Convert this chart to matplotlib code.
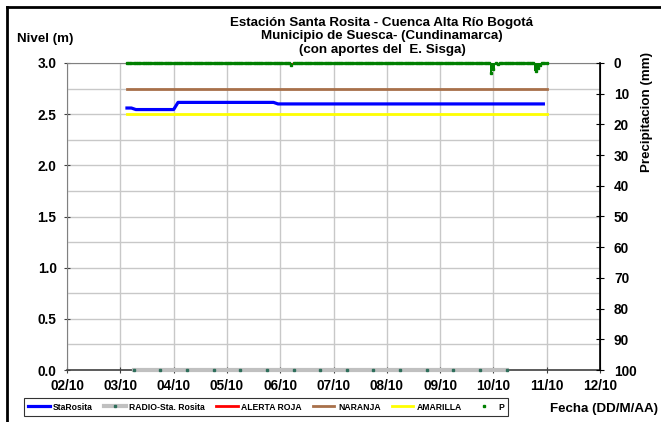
import numpy as np
import pandas as pd
import matplotlib
matplotlib.use("Agg")
import matplotlib.pyplot as plt
import matplotlib.dates as mdates
from matplotlib.lines import Line2D

plt.rcParams['font.family'] = ['Liberation Sans', 'DejaVu Sans']
plt.rcParams['font.weight'] = 'bold'

# Nivel StaRosita (m)
nivel_fechas = ["2010-10-03 03:00", "2010-10-03 05:00", "2010-10-03 07:00", "2010-10-04 00:00",
                "2010-10-04 02:00", "2010-10-05 21:00", "2010-10-05 23:00", "2010-10-10 22:30"]
nivel_valores = [2.56, 2.56, 2.545, 2.545, 2.615, 2.615, 2.60, 2.60]

# RADIO-Sta. Rosita (cada 12 h, en cero)
radio_fechas = ["2010-10-03 06:00", "2010-10-03 18:00", "2010-10-04 06:00", "2010-10-04 18:00",
                "2010-10-05 06:00", "2010-10-05 18:00", "2010-10-06 06:00", "2010-10-06 18:00",
                "2010-10-07 06:00", "2010-10-07 18:00", "2010-10-08 06:00", "2010-10-08 18:00",
                "2010-10-09 06:00", "2010-10-09 18:00", "2010-10-10 06:00"]
radio_valores = [0.0] * len(radio_fechas)

# umbrales de alerta
umbral_fechas = ["2010-10-03 03:00", "2010-10-11 00:00"]
alerta_roja = [3.0, 3.0]
naranja = [2.75, 2.75]
amarilla = [2.5, 2.5]

# precipitacion horaria (mm), casi toda en cero
p_fechas = pd.date_range("2010-10-03 03:00", "2010-10-11 00:00", freq="h")
p_eventos = {"2010-10-06 05:00": 0.6, "2010-10-09 23:00": 3.3, "2010-10-10 00:00": 2.0,
             "2010-10-10 02:00": 0.4, "2010-10-10 19:00": 2.5, "2010-10-10 20:00": 1.6,
             "2010-10-10 21:00": 0.8}
p_valores = pd.Series(0.0, index=p_fechas)
for k, v in p_eventos.items():
    p_valores[pd.Timestamp(k)] = v

fig = plt.figure(figsize=(6.61, 4.22), dpi=100)
ax = fig.add_axes([67 / 661, 52 / 422, 533 / 661, 307 / 422])
ax2 = ax.twinx()

to_dt = pd.to_datetime
ax.plot(to_dt(umbral_fechas), alerta_roja, color='red', lw=1.5, zorder=3)
ax.plot(to_dt(umbral_fechas), naranja, color='#a8704a', lw=2, zorder=3)
ax.plot(to_dt(umbral_fechas), amarilla, color='#ffff00', lw=2, zorder=3)
ax.plot(to_dt(radio_fechas), radio_valores, color='#c0c0c0', lw=3, marker='s', ms=1.7,
        mfc='#2e6e5a', mec='#2e6e5a', zorder=3, clip_on=False)
ax.plot(to_dt(nivel_fechas), nivel_valores, color='#0000ff', lw=2.3, zorder=4)

ax2.bar(p_valores.index, p_valores.values, width=1 / 24, color='#008000', align='center', zorder=5)
ax2.plot(p_valores.index, p_valores.values, ls='none', marker='s', ms=1.6, color='#008000', zorder=5,
         clip_on=False)

ax.set_xlim(pd.Timestamp("2010-10-02"), pd.Timestamp("2010-10-12"))
ax.set_ylim(0, 3.0)
ax2.set_ylim(100, 0)

ax.xaxis.set_major_locator(mdates.DayLocator())
ax.xaxis.set_major_formatter(mdates.DateFormatter('%d/%m'))
ax.set_yticks(np.arange(0, 3.01, 0.5))
ax.set_yticks(np.arange(0.25, 3.0, 0.5), minor=True)
ax.yaxis.set_major_formatter(matplotlib.ticker.FormatStrFormatter('%.1f'))
ax2.set_yticks(np.arange(0, 101, 10))

ax.grid(True, which='both', color='#c8c8c8', lw=1)
ax.set_axisbelow(True)
ax.tick_params(axis='y', which='minor', length=0)
ax.tick_params(axis='both', which='major', direction='inout', length=5, labelsize=9.8, color='#404040')
ax.tick_params(axis='y', pad=5)
ax.tick_params(axis='x', pad=4)
ax2.tick_params(axis='y', direction='inout', length=6, labelsize=9.8, pad=7)

for s in ['left', 'top']:
    ax.spines[s].set_color('#808080')
ax.spines['bottom'].set_color('#404040')
ax.spines['bottom'].set_linewidth(1.2)
ax2.spines['right'].set_color('black')
ax2.spines['right'].set_linewidth(1.2)
for s in ['left', 'top', 'bottom']:
    ax2.spines[s].set_visible(False)

fs = 9.6
fig.text(382 / 661, 1 - 23 / 422, "Estación Santa Rosita - Cuenca Alta Río Bogotá", ha='center', va='center', fontsize=fs)
fig.text(382 / 661, 1 - 36 / 422, "Municipio de Suesca- (Cundinamarca)", ha='center', va='center', fontsize=fs)
fig.text(382 / 661, 1 - 50 / 422, "(con aportes del  E. Sisga)", ha='center', va='center', fontsize=fs)
fig.text(17 / 661, 1 - 39 / 422, "Nivel (m)", ha='left', va='center', fontsize=fs)
fig.text(647 / 661, 1 - 112 / 422, "Precipitacion (mm)", ha='center', va='center', rotation=90, fontsize=fs)
fig.text(550 / 661, 1 - 409 / 422, "Fecha (DD/M/AA)", ha='left', va='center', fontsize=fs)

handles = [
    Line2D([], [], color='#0000ff', lw=2.3),
    Line2D([], [], color='#c0c0c0', lw=3, marker='s', ms=1.7, mfc='#2e6e5a', mec='#2e6e5a'),
    Line2D([], [], color='red', lw=2),
    Line2D([], [], color='#a8704a', lw=2),
    Line2D([], [], color='#ffff00', lw=2),
    Line2D([], [], ls='none', marker='s', ms=1.6, color='#008000'),
]
labels = ["StaRosita", "RADIO-Sta. Rosita", "ALERTA ROJA", "NARANJA", "AMARILLA", "P"]
leg = fig.legend(handles, labels, loc='center', bbox_to_anchor=(266 / 661, 1 - 407 / 422), ncol=6,
                 fontsize=6.2, frameon=True, fancybox=False, edgecolor='black', handlelength=2.5,
                 handletextpad=0.4, columnspacing=1.3, borderpad=0.5)
leg.get_frame().set_linewidth(0.8)

# borde del grafico
fig.add_artist(Line2D([7 / 661, 7 / 661], [0, 1 - 7 / 422], color='black', lw=2, transform=fig.transFigure))
fig.add_artist(Line2D([7 / 661, 1], [1 - 7 / 422, 1 - 7 / 422], color='black', lw=2, transform=fig.transFigure))

fig.savefig("out.png", dpi=100)
